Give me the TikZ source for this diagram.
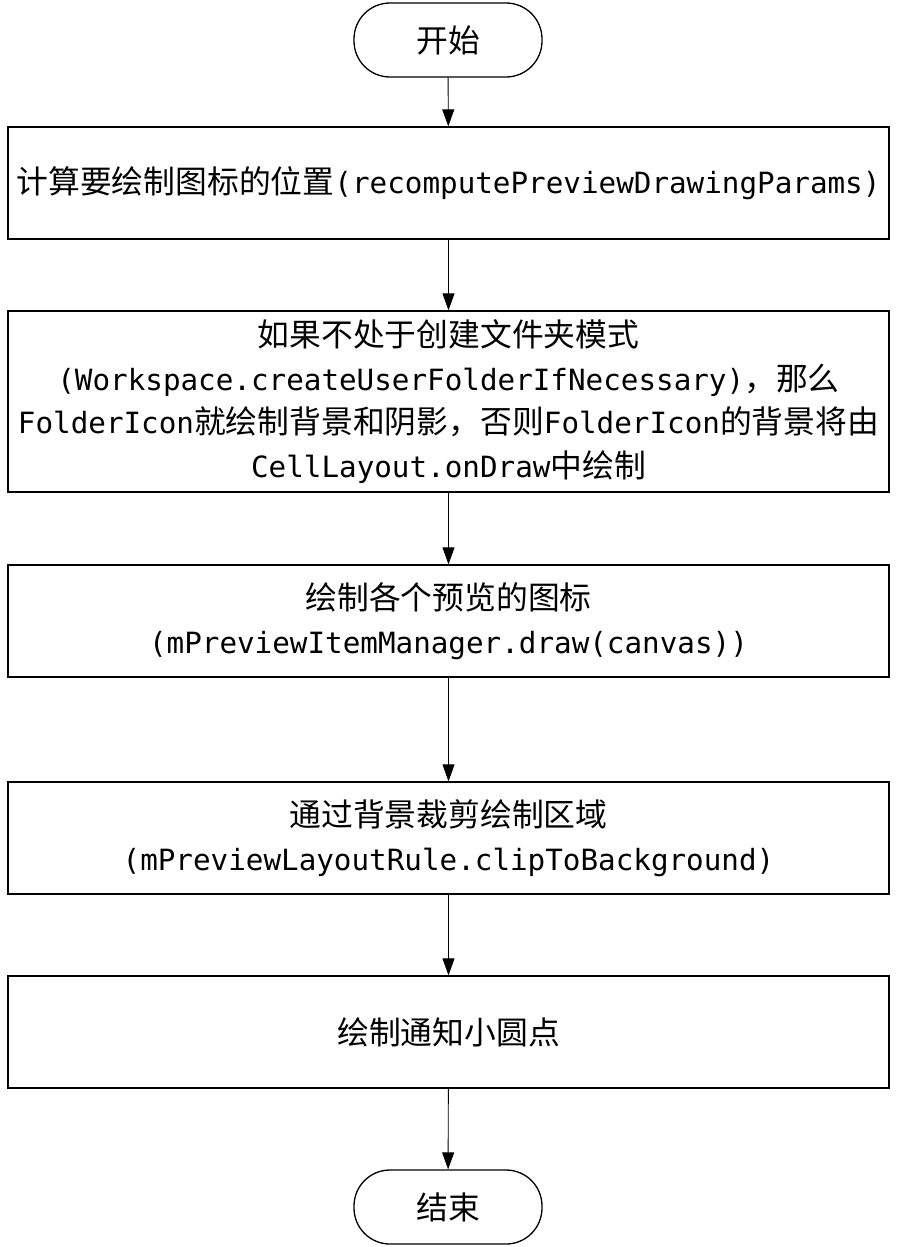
\documentclass[tikz,border=0pt]{standalone}
\usepackage{fontspec}
\setmainfont{Noto Sans CJK SC}
\newfontfamily\codefont{DejaVu Sans Mono}[Scale=0.92]
\newcommand{\code}[1]{{\codefont #1}}
\usetikzlibrary{arrows.meta}
\tikzset{
  terminal/.style={draw, line width=1.3pt, minimum width=188pt, minimum height=74pt, rounded corners=36pt},
  process/.style={draw, line width=1.3pt, minimum width=881pt, align=center, inner sep=0pt},
  flow/.style={line width=0.9pt, -{Triangle[length=17pt,width=12pt]}},
}
\begin{document}
\begin{tikzpicture}[x=1pt, y=-1pt, font=\fontsize{31.8}{43.5}\selectfont]
  \useasboundingbox (0,0) rectangle (897,1247);
  % 开始 and 结束
  \node[terminal] (start) at (448,40) {开始};
  \node[terminal] (stop) at (448,1207) {结束};
  % steps
  \node[process, minimum height=112pt] (calc) at (448.5,183)
    {计算要绘制图标的位置\code{(recomputePreviewDrawingParams)}};
  \node[process, minimum height=181pt] (bg) at (448.5,401.5)
    {如果不处于创建文件夹模式\\
     \code{(Workspace.createUserFolderIfNecessary)}，那么\\
     \code{FolderIcon}就绘制背景和阴影，否则\code{FolderIcon}的背景将由\\
     \code{CellLayout.onDraw}中绘制};
  \node[process, minimum height=112pt] (items) at (448.5,621)
    {绘制各个预览的图标\\ \code{(mPreviewItemManager.draw(canvas))}};
  \node[process, minimum height=112pt] (clip) at (448.5,838)
    {通过背景裁剪绘制区域\\ \code{(mPreviewLayoutRule.clipToBackground)}};
  \node[process, minimum height=112pt] (dot) at (448.5,1032) {绘制通知小圆点};
  % arrows
  \draw[flow] (start) -- (calc);
  \draw[flow] (calc) -- (bg);
  \draw[flow] (bg) -- (items);
  \draw[flow] (items) -- (clip);
  \draw[flow] (clip) -- (dot);
  \draw[flow] (dot) -- (stop);
\end{tikzpicture}
\end{document}
